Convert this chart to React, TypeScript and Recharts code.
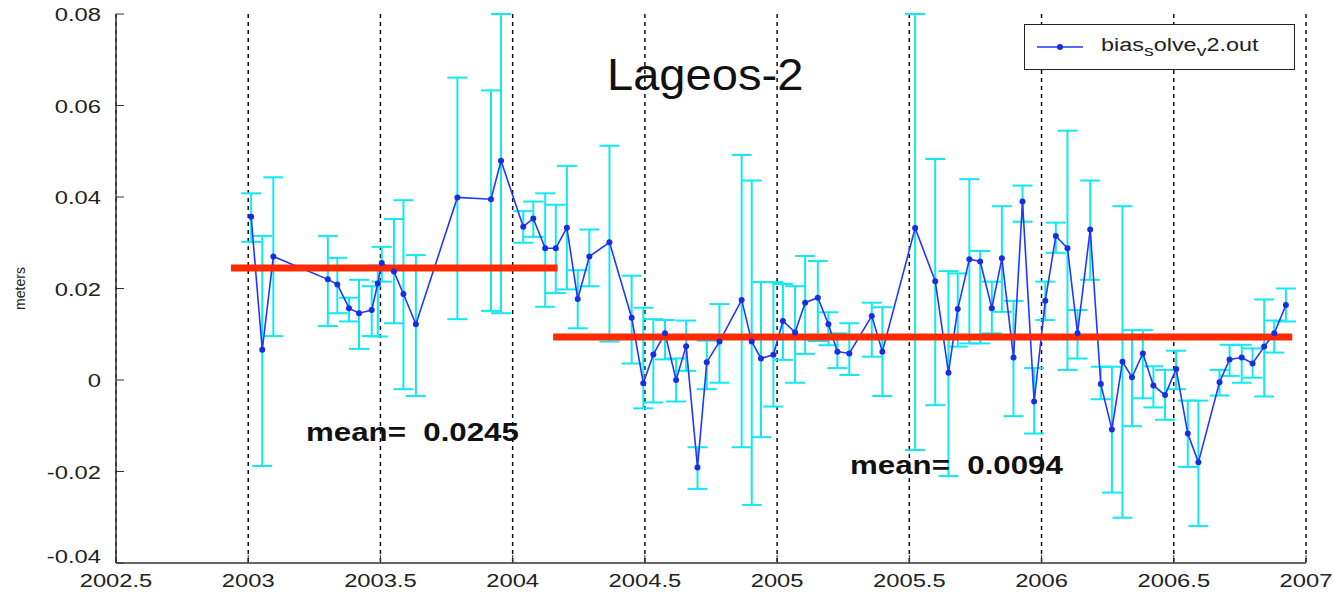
import {
  CartesianGrid,
  ComposedChart,
  ErrorBar,
  Legend,
  Line,
  ReferenceLine,
  XAxis,
  YAxis,
} from 'recharts'

const FONT = '"Liberation Sans", Arial, sans-serif'

// epoch of each bias solution (years)
const years = [
  2003.011, 2003.053, 2003.095, 2003.301, 2003.337, 2003.381, 2003.419, 2003.467,
  2003.49, 2003.505, 2003.551, 2003.587, 2003.634, 2003.791, 2003.918, 2003.956,
  2004.04, 2004.078, 2004.123, 2004.163, 2004.205, 2004.246, 2004.29, 2004.366,
  2004.45, 2004.494, 2004.532, 2004.576, 2004.618, 2004.656, 2004.699, 2004.734,
  2004.782, 2004.866, 2004.904, 2004.939, 2004.986, 2005.022, 2005.068, 2005.106,
  2005.154, 2005.194, 2005.228, 2005.273, 2005.358, 2005.398, 2005.522, 2005.598,
  2005.648, 2005.683, 2005.727, 2005.768, 2005.812, 2005.85, 2005.894, 2005.928,
  2005.972, 2006.014, 2006.054, 2006.098, 2006.136, 2006.184, 2006.224, 2006.266,
  2006.306, 2006.342, 2006.383, 2006.423, 2006.467, 2006.509, 2006.553, 2006.593,
  2006.673, 2006.711, 2006.757, 2006.798, 2006.842, 2006.88, 2006.924,
]

// estimated bias (meters)
const bias = [
  0.0357, 0.0066, 0.027, 0.022, 0.0209, 0.0157, 0.0146, 0.0153,
  0.0211, 0.0256, 0.0237, 0.0188, 0.0122, 0.0399, 0.0395, 0.0479,
  0.0335, 0.0353, 0.0288, 0.0288, 0.0333, 0.0177, 0.027, 0.0301,
  0.0136, -0.0007, 0.0056, 0.0102, 0.0, 0.0074, -0.0191, 0.0039,
  0.0084, 0.0175, 0.0084, 0.0047, 0.0055, 0.0129, 0.0104, 0.0169,
  0.018, 0.0122, 0.0062, 0.0058, 0.014, 0.0062, 0.0332, 0.0216,
  0.0016, 0.0155, 0.0264, 0.0259, 0.0157, 0.0266, 0.0049, 0.039,
  -0.0047, 0.0173, 0.0315, 0.0288, 0.0102, 0.0329, -0.0009, -0.0108,
  0.004, 0.0006, 0.0058, -0.0012, -0.0033, 0.0024, -0.0117, -0.018,
  -0.0005, 0.0045, 0.0049, 0.0036, 0.0073, 0.0102, 0.0164,
]

// lower / upper ends of the error bars (meters); two bars run off the top of the axes
const lowerBound = [
  0.0302, -0.0188, 0.0096, 0.0118, 0.0146, 0.0128, 0.0068, 0.0096,
  0.0095, 0.0215, 0.0124, -0.002, -0.0035, 0.0133, 0.0151, 0.0146,
  0.03, 0.0313, 0.016, 0.019, 0.0198, 0.0113, 0.0205, 0.0084,
  0.0036, -0.0062, -0.0049, 0.0045, -0.0047, 0.002, -0.0238, -0.002,
  -0.0006, -0.0147, -0.0273, -0.0125, -0.0058, 0.0044, -0.0006, 0.0057,
  0.0085, 0.0076, 0.0026, 0.0011, 0.0051, -0.0035, -0.0153, -0.0055,
  -0.021, 0.0073, 0.008, 0.008, 0.0102, 0.0149, -0.0079, 0.0346,
  -0.0117, 0.0131, 0.0278, 0.0022, 0.0047, 0.0219, -0.0042, -0.0246,
  -0.0301, -0.0101, -0.004, -0.006, -0.0087, -0.002, -0.019, -0.0319,
  -0.0034, 0.0009, -0.0006, 0.0005, -0.0036, 0.006, 0.0128,
]
const upperBound = [
  0.0408, 0.0315, 0.0443, 0.0315, 0.0267, 0.018, 0.0219, 0.0205,
  0.025, 0.0291, 0.0352, 0.0393, 0.0273, 0.0661, 0.0633, 0.08,
  0.0369, 0.039, 0.0408, 0.0383, 0.0468, 0.024, 0.0329, 0.0512,
  0.0228, 0.0158, 0.0133, 0.0131, 0.0047, 0.013, -0.0147, 0.0086,
  0.0166, 0.0492, 0.0436, 0.0214, 0.0214, 0.021, 0.0205, 0.0271,
  0.026, 0.0148, 0.0102, 0.0124, 0.0169, 0.0159, 0.08, 0.0483,
  0.0238, 0.0233, 0.0439, 0.0282, 0.0215, 0.038, 0.0173, 0.0425,
  0.0026, 0.0215, 0.0344, 0.0545, 0.0153, 0.0436, 0.0029, 0.0029,
  0.038, 0.0109, 0.0109, 0.003, 0.0022, 0.0064, -0.0045, -0.0045,
  0.0022, 0.0077, 0.0077, 0.0069, 0.0176, 0.013, 0.02,
]

// two mean levels (red bars)
const meanStart = [2002.935, 2004.153]
const meanEnd = [2004.17, 2006.948]
const meanValue = [0.0245, 0.0094]
const meanLabels = ['mean=  0.0245', 'mean=  0.0094']

const xTicks = [2002.5, 2003, 2003.5, 2004, 2004.5, 2005, 2005.5, 2006, 2006.5, 2007]
const yTicks = [-0.04, -0.02, 0, 0.02, 0.04, 0.06, 0.08]

const data = years.map((year, i) => ({
  year,
  bias: bias[i],
  err: [bias[i] - lowerBound[i], upperBound[i] - bias[i]],
}))

function XTick(props: any) {
  const { x, y, payload } = props
  return (
    <g transform={`translate(${x},${y})`}>
      <text transform="scale(1.25,1)" textAnchor="middle" dy={16} fontSize={19} fill="#222" fontFamily={FONT}>
        {payload.value}
      </text>
    </g>
  )
}

function YTick(props: any) {
  const { x, y, payload } = props
  // matlab lifts the lowest label a little off the x axis
  const dy = payload.value === yTicks[0] ? 0 : 7
  return (
    <g transform={`translate(${x},${y})`}>
      <text transform="scale(1.25,1)" textAnchor="end" dy={dy} fontSize={19} fill="#222" fontFamily={FONT}>
        {payload.value}
      </text>
    </g>
  )
}

function LegendBox() {
  return (
    <div
      style={{
        width: 269,
        height: 44,
        border: '1px solid #222',
        background: '#fff',
        display: 'flex',
        alignItems: 'center',
        fontFamily: FONT,
        fontSize: 18,
        color: '#222',
      }}
    >
      <svg width={70} height={10} style={{ marginLeft: 12 }}>
        <line x1={0} x2={46} y1={5} y2={5} stroke="#2038ff" strokeWidth={1.5} />
        <circle cx={23} cy={5} r={3} fill="#1a2de0" />
      </svg>
      <span style={{ display: 'inline-block', transform: 'scale(1.3,1)', transformOrigin: 'left', marginLeft: -6 }}>
        bias<sub style={{ fontSize: 15 }}>s</sub>olve<sub style={{ fontSize: 15 }}>v</sub>2.out
      </span>
    </div>
  )
}

const overlayText = (left: number, top: number, size: number, bold: boolean, sx: number) => ({
  position: 'absolute' as const,
  left,
  top,
  fontSize: size,
  lineHeight: 1,
  fontWeight: bold ? 700 : 400,
  fontFamily: FONT,
  color: '#111',
  whiteSpace: 'pre' as const,
  transform: `scale(${sx},1)`,
  transformOrigin: 'left',
})

export default function App() {
  return (
    <div style={{ position: 'absolute', left: 0, top: 0, width: 1334, height: 595, background: '#fff' }}>
      <ComposedChart width={1334} height={595} data={data} margin={{ top: 14, right: 28, bottom: 0, left: 0 }}>
        <CartesianGrid horizontal={false} stroke="#111" strokeWidth={1.5} strokeDasharray="4 4" />
        <XAxis
          dataKey="year"
          type="number"
          domain={[2002.5, 2007]}
          ticks={xTicks}
          interval={0}
          allowDataOverflow
          height={32}
          tickSize={-8}
          tickMargin={16}
          tick={<XTick />}
          axisLine={{ stroke: '#333', strokeWidth: 1.5 }}
          tickLine={{ stroke: '#333' }}
        />
        <XAxis
          xAxisId="top"
          orientation="top"
          type="number"
          domain={[2002.5, 2007]}
          ticks={xTicks}
          interval={0}
          height={0}
          tickSize={-8}
          tick={false}
          axisLine={{ stroke: '#333', strokeWidth: 1.5 }}
          tickLine={{ stroke: '#333' }}
        />
        <YAxis
          type="number"
          domain={[-0.04, 0.08]}
          ticks={yTicks}
          interval={0}
          allowDataOverflow
          width={116}
          tickSize={-8}
          tickMargin={23}
          tick={<YTick />}
          axisLine={{ stroke: '#333', strokeWidth: 1.5 }}
          tickLine={{ stroke: '#333' }}
          label={{
            value: 'meters',
            angle: -90,
            position: 'insideLeft',
            offset: 20,
            style: { textAnchor: 'middle', fontSize: 14, fill: '#222', fontFamily: FONT },
          }}
        />
        <YAxis
          yAxisId="right"
          orientation="right"
          type="number"
          domain={[-0.04, 0.08]}
          ticks={yTicks}
          interval={0}
          width={0}
          tickSize={-8}
          tick={false}
          axisLine={{ stroke: '#111', strokeWidth: 2.5 }}
          tickLine={{ stroke: '#333' }}
        />
        <Legend
          layout="horizontal"
          verticalAlign="middle"
          align="center"
          wrapperStyle={{ position: 'absolute', left: 1024, top: 24, width: 271, height: 46 }}
          content={() => <LegendBox />}
        />
        <Line
          dataKey="bias"
          stroke="none"
          dot={false}
          activeDot={false}
          legendType="none"
          isAnimationActive={false}
        >
          <ErrorBar dataKey="err" direction="y" stroke="#12e8f0" strokeWidth={2} width={10} />
        </Line>
        <Line
          dataKey="bias"
          name="bias_solve_v2.out"
          stroke="#2038ff"
          strokeWidth={1.6}
          dot={{ r: 3, fill: '#1a2de0', stroke: 'none' }}
          activeDot={false}
          isAnimationActive={false}
        />
        {meanValue.map((v, i) => (
          <ReferenceLine
            key={i}
            segment={[
              { x: meanStart[i], y: v },
              { x: meanEnd[i], y: v },
            ]}
            stroke="#ff2a00"
            strokeWidth={7}
          />
        ))}
      </ComposedChart>
      <div style={overlayText(607, 53, 44, false, 1.07)}>Lageos-2</div>
      <div style={overlayText(306, 420, 25, true, 1.25)}>{meanLabels[0]}</div>
      <div style={overlayText(850, 453, 25, true, 1.25)}>{meanLabels[1]}</div>
    </div>
  )
}
